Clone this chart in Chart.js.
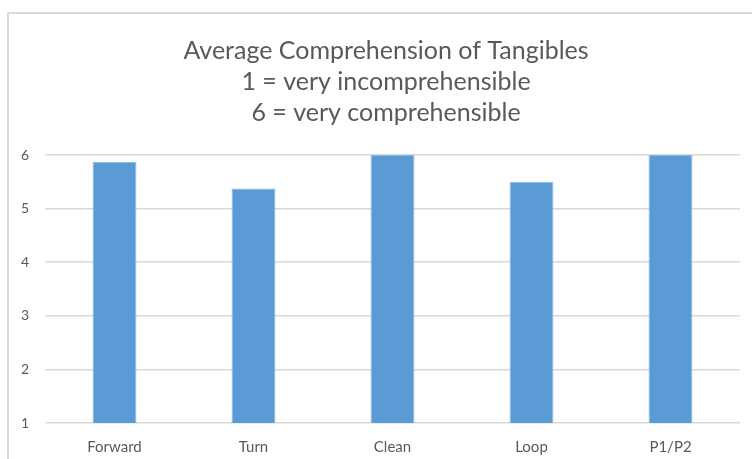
<!DOCTYPE html>
<html>
<head>
<meta charset="utf-8">
<script src="https://cdn.jsdelivr.net/npm/chart.js@4/dist/chart.umd.min.js"></script>
<style>
  html, body { margin: 0; padding: 0; background: #ffffff; }
  #wrap { position: relative; width: 752px; height: 459px; overflow: hidden; }
  #frame { position: absolute; left: 7px; top: 12px; width: 800px; height: 500px;
           border-top: 2px solid #D9D9D9; border-left: 2px solid #D9D9D9; box-sizing: border-box; }
  canvas { position: absolute; left: 0; top: 0; }
</style>
</head>
<body>
<div id="wrap">
  <div id="frame"></div>
  <canvas id="chart" width="752" height="459"></canvas>
</div>
<script>
// Tangible cards and their mean comprehension rating (scale 1–6)
const categories = ['Forward', 'Turn', 'Clean', 'Loop', 'P1/P2'];
const averageScores = [5.875, 5.375, 6, 5.5, 6];
const titleLines = [
  'Average Comprehension of Tangibles',
  '1 = very incomprehensible',
  '6 = very comprehensible'
];
const yTicks = [1, 2, 3, 4, 5, 6];

const textColor = '#595959';
const fontFamily = 'Lato, "Open Sans", sans-serif';

// Centre the title on the whole frame rather than on the canvas
const titleShift = {
  id: 'titleShift',
  afterLayout(chart) {
    if (chart.titleBlock) { chart.titleBlock.left = 32; }
  }
};

new Chart(document.getElementById('chart'), {
  type: 'bar',
  data: {
    labels: categories,
    datasets: [{
      data: averageScores,
      backgroundColor: '#5B9BD5',
      borderColor: '#8DB9E3',
      borderWidth: 1,
      barPercentage: 0.316,
      categoryPercentage: 1
    }]
  },
  plugins: [titleShift],
  options: {
    responsive: false,
    animation: false,
    layout: { padding: { left: 0, right: 12, top: 0, bottom: 0 } },
    plugins: {
      legend: { display: false },
      tooltip: { enabled: false },
      title: {
        display: true,
        text: titleLines,
        color: textColor,
        font: { family: fontFamily, size: 25, weight: 'normal', lineHeight: 1.24 },
        padding: { top: 35, bottom: 27 }
      }
    },
    scales: {
      x: {
        grid: { display: false },
        border: { display: false },
        ticks: { color: textColor, font: { family: fontFamily, size: 15 }, padding: 7 },
        afterFit(scale) { scale.height = 36; }
      },
      y: {
        min: 1,
        max: 6,
        afterBuildTicks(scale) { scale.ticks = yTicks.map(v => ({ value: v })); },
        grid: { color: '#D9D9D9', lineWidth: 1.5, drawTicks: false },
        border: { display: false },
        ticks: { color: textColor, font: { family: fontFamily, size: 14 }, padding: 16 },
        afterFit(scale) { scale.width = 45; }
      }
    }
  }
});
</script>
</body>
</html>
